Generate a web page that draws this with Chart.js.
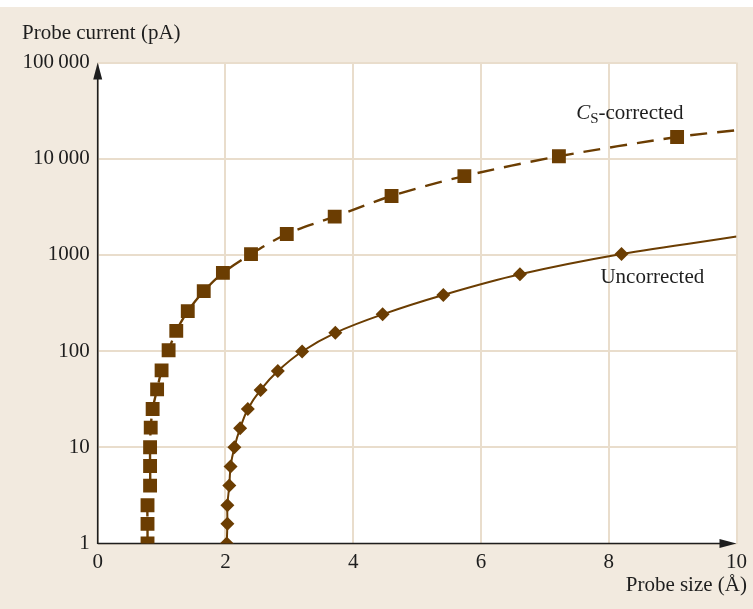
<!DOCTYPE html>
<html>
<head>
<meta charset="utf-8">
<title>Probe current vs probe size</title>
<script src="https://cdn.jsdelivr.net/npm/chart.js@4.4.1/dist/chart.umd.min.js"></script>
<style>
  html, body { margin: 0; padding: 0; background: #ffffff; }
  #wrap { width: 753px; height: 609px; }
</style>
</head>
<body>
<div id="wrap"><canvas id="chart" width="753" height="609"></canvas></div>
<script>
// Probe size (Å) and probe current (pA); the last entry of each series is
// where the fitted curve leaves the plot at 10 Å (no marker there).
const correctedSize = [0.78, 0.78, 0.78, 0.82, 0.82, 0.82, 0.83, 0.86, 0.93, 1.0, 1.11, 1.23,
  1.41, 1.66, 1.96, 2.40, 2.96, 3.71, 4.60, 5.74, 7.22, 9.07, 10];
const correctedCurrent = [1.0, 1.6, 2.5, 4.0, 6.4, 10, 16, 25, 40, 63, 102, 162,
  260, 420, 650, 1020, 1650, 2500, 4100, 6600, 10600, 16800, 19800];

const uncorrectedSize = [2.02, 2.03, 2.03, 2.06, 2.08, 2.14, 2.23, 2.35, 2.55, 2.82, 3.20,
  3.72, 4.46, 5.41, 6.61, 8.20, 10];
const uncorrectedCurrent = [1.0, 1.6, 2.5, 4.0, 6.3, 10, 15.8, 25, 39.5, 62, 99,
  155, 241, 383, 628, 1020, 1550];

const xTicks = [0, 2, 4, 6, 8, 10];
const yTicks = [1, 10, 100, 1000, 10000, 100000];
const yTickLabels = ['1', '10', '100', '1000', '10\u2009000', '100\u2009000'];

const BROWN = '#6b3d02';
const GRID = '#e9ddcc';
const PANEL = '#f2eadf';
const INK = '#1e1e1e';
const FONT = '"Liberation Serif", "Times New Roman", serif';

const toPoints = (xs, ys) => xs.map((x, i) => ({ x, y: ys[i] }));
const lastIndexRadius = (r, n) => (ctx) => (ctx.dataIndex === n - 1 ? 0 : r);

const framePlugin = {
  id: 'frame',
  beforeDraw(chart) {
    const { ctx, chartArea: a, width, height } = chart;
    ctx.save();
    ctx.fillStyle = PANEL;
    ctx.fillRect(0, 0, width, height);
    ctx.fillStyle = '#ffffff';
    ctx.fillRect(0, 0, width, 7);
    ctx.fillRect(a.left, a.top, a.right - a.left, a.bottom - a.top);
    ctx.restore();
  },
  beforeDatasetsDraw(chart) {
    const { ctx, chartArea: a } = chart;
    ctx.save();
    ctx.strokeStyle = INK;
    ctx.fillStyle = INK;
    ctx.lineWidth = 1.6;
    // vertical axis with arrow head
    ctx.beginPath();
    ctx.moveTo(a.left, a.bottom + 0.5);
    ctx.lineTo(a.left, a.top + 10);
    ctx.stroke();
    ctx.beginPath();
    ctx.moveTo(a.left, a.top);
    ctx.lineTo(a.left - 4.5, a.top + 17);
    ctx.lineTo(a.left + 4.5, a.top + 17);
    ctx.closePath();
    ctx.fill();
    // horizontal axis with arrow head
    ctx.beginPath();
    ctx.moveTo(a.left, a.bottom);
    ctx.lineTo(a.right - 10, a.bottom);
    ctx.stroke();
    ctx.beginPath();
    ctx.moveTo(a.right, a.bottom);
    ctx.lineTo(a.right - 17, a.bottom - 4.5);
    ctx.lineTo(a.right - 17, a.bottom + 4.5);
    ctx.closePath();
    ctx.fill();
    ctx.restore();
  },
  afterDraw(chart) {
    const { ctx, scales } = chart;
    const xs = scales.x, ys = scales.y;
    ctx.save();
    ctx.fillStyle = INK;
    ctx.textBaseline = 'alphabetic';
    ctx.font = '21px ' + FONT;
    ctx.textAlign = 'left';
    ctx.fillText('Probe current (pA)', 22, 39);
    ctx.textAlign = 'right';
    ctx.fillText('Probe size (\u00c5)', 747, 591);

    // series names next to their curves
    ctx.textAlign = 'left';
    ctx.fillText('Uncorrected', xs.getPixelForValue(7.87), ys.getPixelForValue(510));

    let px = xs.getPixelForValue(7.49);
    const py = ys.getPixelForValue(25800);
    ctx.font = 'italic 21px ' + FONT;
    ctx.fillText('C', px, py);
    px += ctx.measureText('C').width;
    ctx.font = '15px ' + FONT;
    ctx.fillText('S', px, py + 4);
    px += ctx.measureText('S').width;
    ctx.font = '21px ' + FONT;
    ctx.fillText('-corrected', px, py);
    ctx.restore();
  }
};

new Chart(document.getElementById('chart'), {
  type: 'scatter',
  data: {
    datasets: [
      {
        label: 'Uncorrected',
        data: toPoints(uncorrectedSize, uncorrectedCurrent),
        showLine: true,
        borderColor: BROWN,
        borderWidth: 2,
        tension: 0.3,
        pointStyle: 'rectRot',
        pointRadius: lastIndexRadius(7, uncorrectedSize.length),
        pointBackgroundColor: BROWN,
        pointBorderColor: BROWN,
        pointBorderWidth: 0
      },
      {
        label: 'CS-corrected',
        data: toPoints(correctedSize, correctedCurrent),
        showLine: true,
        borderColor: BROWN,
        borderWidth: 2.4,
        borderDash: [17, 10],
        tension: 0.3,
        pointStyle: 'rect',
        pointRadius: lastIndexRadius(9.8, correctedSize.length),
        pointBackgroundColor: BROWN,
        pointBorderColor: BROWN,
        pointBorderWidth: 0
      }
    ]
  },
  options: {
    responsive: false,
    animation: false,
    devicePixelRatio: 1,
    layout: { padding: { top: 62.5, right: 16, left: 0, bottom: 0 } },
    plugins: { legend: { display: false }, tooltip: { enabled: false } },
    font: { family: FONT, size: 21 },
    scales: {
      x: {
        type: 'linear',
        min: 0,
        max: 10,
        afterBuildTicks(scale) { scale.ticks = xTicks.map(v => ({ value: v })); },
        afterFit(scale) { scale.height = 65.5; },
        grid: { color: GRID, lineWidth: 2, drawTicks: false },
        border: { display: false },
        ticks: { color: INK, padding: 6, font: { family: FONT, size: 21 }, maxRotation: 0,
          callback: (v) => String(v) }
      },
      y: {
        type: 'logarithmic',
        min: 1,
        max: 100000,
        afterBuildTicks(scale) { scale.ticks = yTicks.map(v => ({ value: v, major: true })); },
        afterFit(scale) { scale.width = 97.7; },
        grid: { color: GRID, lineWidth: 2, drawTicks: false },
        border: { display: false },
        ticks: { color: INK, padding: 8, font: { family: FONT, size: 21 },
          callback: (v) => yTickLabels[yTicks.indexOf(v)] ?? '' }
      }
    }
  },
  plugins: [framePlugin]
});
</script>
</body>
</html>
